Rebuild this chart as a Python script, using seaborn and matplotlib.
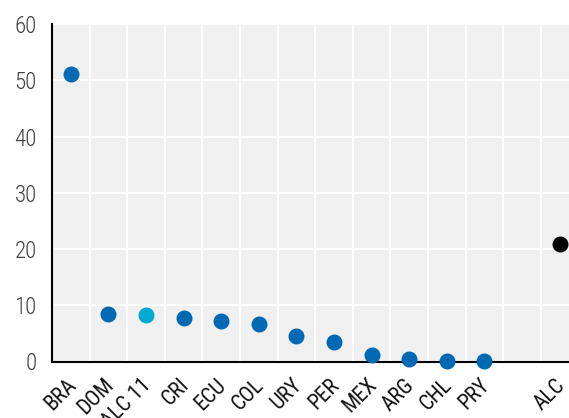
import matplotlib
matplotlib.use('Agg')
import matplotlib.pyplot as plt
import matplotlib.transforms as mtransforms
import seaborn as sns
import pandas as pd
import numpy as np
from matplotlib.ticker import FixedLocator

# data
countries = ['BRA', 'DOM', 'ALC 11', 'CRI', 'ECU', 'COL', 'URY', 'PER',
             'MEX', 'ARG', 'CHL', 'PRY', ' ', 'ALC']
values = [51.1, 8.5, 8.3, 7.8, 7.2, 6.7, 4.6, 3.5, 1.1, 0.4, 0.1, 0.1, np.nan, 20.9]
groups = ['pais'] * 2 + ['alc11'] + ['pais'] * 9 + ['vacio', 'alc']
colors = {'pais': '#0069B4', 'alc11': '#00A9CE', 'vacio': '#0069B4', 'alc': '#000000'}

df = pd.DataFrame({'pais': countries, 'valor': values, 'grupo': groups})
df = df.dropna()

sns.set_style('white')
plt.rcParams['font.family'] = ['Roboto Condensed', 'Liberation Sans', 'DejaVu Sans']

fig = plt.figure(figsize=(5.69, 4.18), dpi=100)
ax = fig.add_axes([52 / 569, 56.5 / 418, 526.4 / 569, 337.5 / 418])
ax.set_facecolor('#F0F0F0')

sns.stripplot(data=df, x='pais', y='valor', hue='grupo', order=countries,
              palette=colors, jitter=False, size=11.5, linewidth=0,
              legend=False, ax=ax, clip_on=False, zorder=4)

ax.set_xlim(-0.5, len(countries) - 0.5)
ax.set_ylim(0, 60)
ax.set_yticks(range(0, 61, 10))

# boundaries between categories carry the tick marks and the grid
ax.xaxis.set_minor_locator(FixedLocator(np.arange(0.5, len(countries) - 0.5, 1)))
ax.grid(True, which='minor', axis='x', color='white', linewidth=1.5)
ax.grid(True, which='major', axis='y', color='white', linewidth=1.5)
ax.set_axisbelow(True)

ax.tick_params(axis='x', which='major', length=0, pad=9.5, labelsize=15.5,
               labelcolor='#111111', labelrotation=45)
ax.tick_params(axis='x', which='minor', direction='in', length=5, width=1.5,
               color='black')
ax.tick_params(axis='y', direction='in', length=6, width=1.5, color='black',
               labelsize=16.5, labelcolor='#404040', pad=11)
shift = mtransforms.ScaledTranslation(-5 / 100, 0, fig.dpi_scale_trans)
for lab in ax.get_xticklabels():
    lab.set_ha('right')
    lab.set_rotation_mode('anchor')
    lab.set_transform(lab.get_transform() + shift)
for lab in ax.get_yticklabels():
    lab.set_fontweight('light')

for s in ['top', 'right']:
    ax.spines[s].set_visible(False)
for s in ['left', 'bottom']:
    ax.spines[s].set_linewidth(1.5)
    ax.spines[s].set_color('black')

ax.set_xlabel('')
ax.set_ylabel('')

fig.savefig('out.png', dpi=100)
